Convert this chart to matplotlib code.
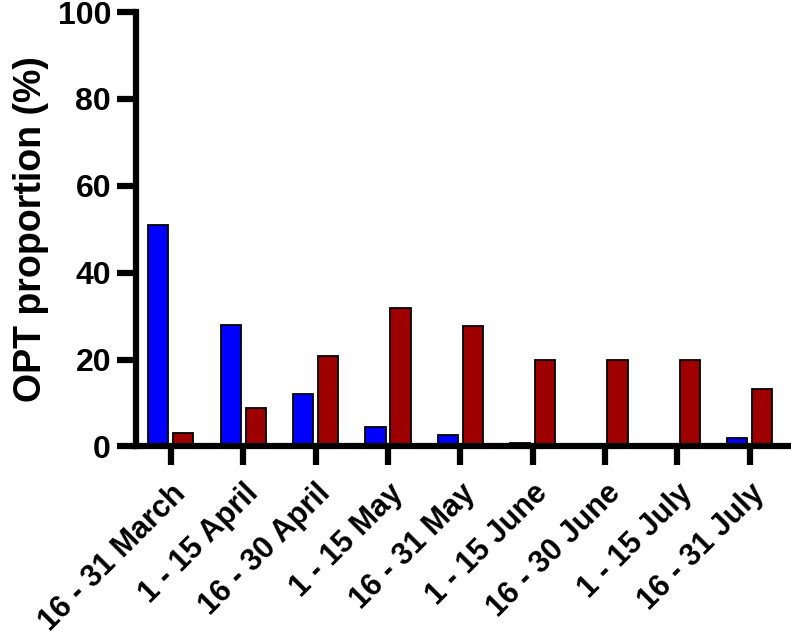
import numpy as np
import matplotlib.pyplot as plt

plt.rcParams['font.family'] = ['Liberation Sans', 'DejaVu Sans']
plt.rcParams['font.weight'] = 'bold'

periods = ["16 - 31 March", "1 - 15 April", "16 - 30 April", "1 - 15 May",
           "16 - 31 May", "1 - 15 June", "16 - 30 June", "1 - 15 July",
           "16 - 31 July"]
blue_vals = [51, 28, 12, 4.5, 2.7, 0.8, 0, 0, 2]
red_vals = [3.1, 8.9, 20.7, 31.8, 27.8, 20, 20, 20, 13.2]

x = np.arange(len(periods))
w = 0.28
off = 0.173

fig = plt.figure(figsize=(7.91, 6.35), dpi=100)
ax = fig.add_axes([0.172, 0.297, 0.828, 0.684])

ax.bar(x - off, blue_vals, w, color="#0000FF", edgecolor="black", linewidth=1.3)
ax.bar(x + off, red_vals, w, color="#9E0000", edgecolor="black", linewidth=1.3)

ax.set_ylim(0, 100)
ax.set_xlim(-0.48, 8.57)
ax.set_yticks([0, 20, 40, 60, 80, 100])
ax.set_xticks(x)
ax.set_xticklabels(periods, rotation=45, ha="right", va="top",
                   rotation_mode="anchor", fontsize=22, fontweight="bold")
ax.tick_params(axis="y", labelsize=23, width=4.5, length=14, pad=4)
ax.tick_params(axis="x", width=4.5, length=14, pad=9)
for lab in ax.get_yticklabels():
    lab.set_fontweight("bold")

for s in ["top", "right"]:
    ax.spines[s].set_visible(False)
for s in ["left", "bottom"]:
    ax.spines[s].set_linewidth(4.5)

ax.set_ylabel("OPT proportion (%)", fontsize=27, fontweight="bold", labelpad=6)

fig.savefig("out.png", dpi=100)
